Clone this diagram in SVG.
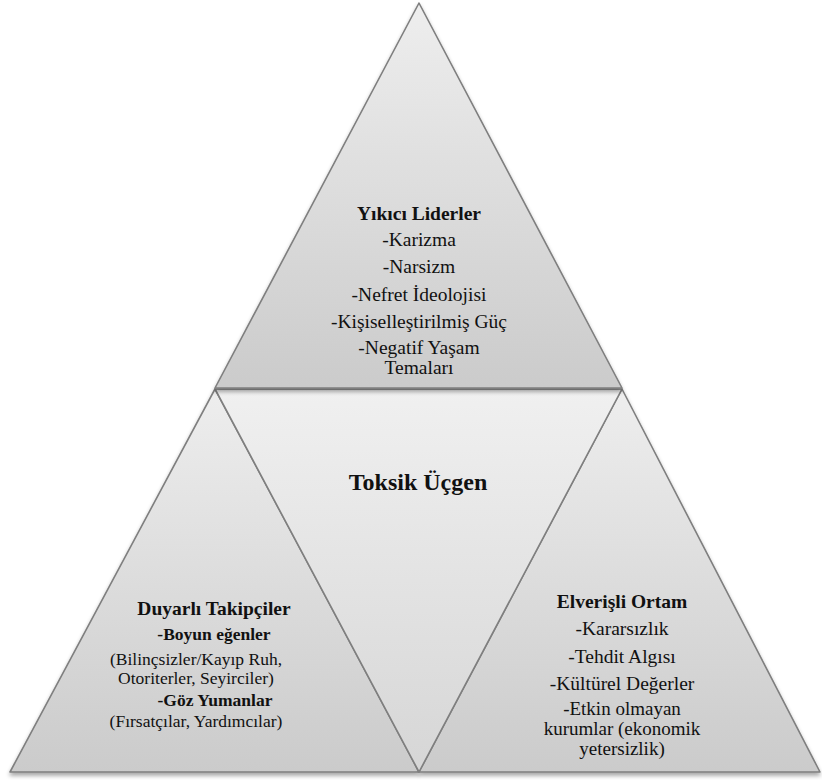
<svg xmlns="http://www.w3.org/2000/svg" width="822" height="781" viewBox="0 0 822 781">
  <defs>
    <linearGradient id="gTri" x1="0" y1="0" x2="0" y2="1">
      <stop offset="0" stop-color="#eeeeee"/>
      <stop offset="1" stop-color="#cbcbcb"/>
    </linearGradient>
    <linearGradient id="gMid" x1="0" y1="0" x2="0" y2="1">
      <stop offset="0" stop-color="#f0f0f0"/>
      <stop offset="1" stop-color="#d6d6d6"/>
    </linearGradient>
    <filter id="shadow" x="-10%" y="-10%" width="120%" height="120%">
      <feGaussianBlur in="SourceAlpha" stdDeviation="2"/>
      <feOffset dx="0" dy="3" result="b"/>
      <feComponentTransfer><feFuncA type="linear" slope="0.35"/></feComponentTransfer>
      <feMerge><feMergeNode/><feMergeNode in="SourceGraphic"/></feMerge>
    </filter>
  </defs>
  <style>
    .tri { stroke: #7f7f7f; stroke-width: 1.6; stroke-linejoin: round; }
    .lbl text { fill: #111; text-anchor: middle; }
    .h { font-weight: bold; font-size: 19.5px; }
    .t { font-size: 19.5px; }
    .tw { font-size: 19px; }
    .s { font-size: 17.5px; }
    .sb { font-size: 17.5px; font-weight: bold; }
    .c { font-weight: bold; font-size: 24px; }
  </style>

  <rect width="822" height="781" fill="#ffffff"/>

  <g id="shapes">
    <g id="left-triangle">
      <polygon class="tri" points="215,389 10,772 419,772" fill="url(#gTri)" filter="url(#shadow)"/>
    </g>
    <g id="right-triangle">
      <polygon class="tri" points="622,389 419,772 820,772" fill="url(#gTri)" filter="url(#shadow)"/>
    </g>
    <g id="center-triangle">
      <polygon class="tri" points="215,389 622,389 419,772" fill="url(#gMid)"/>
    </g>
    <g id="top-triangle">
      <polygon class="tri" points="419,3 215,388 622,388" fill="url(#gTri)" filter="url(#shadow)"/>
    </g>
  </g>

  <g id="connectors"></g>

  <g id="top-label" class="lbl" font-family="'Liberation Serif', 'Times New Roman', 'DejaVu Serif', serif">
    <text class="h" x="419" y="220">Yıkıcı Liderler</text>
    <text class="t" x="419" y="246">-Karizma</text>
    <text class="t" x="419" y="273">-Narsizm</text>
    <text class="t" x="419" y="301">-Nefret İdeolojisi</text>
    <text class="t" x="419" y="328" font-size="20px">-Kişiselleştirilmiş Güç</text>
    <text class="t" x="419" y="354">-Negatif Yaşam</text>
    <text class="t" x="419" y="374">Temaları</text>
  </g>

  <g id="center-label" class="lbl" font-family="'Liberation Serif', 'Times New Roman', 'DejaVu Serif', serif">
    <text class="c" x="418" y="490">Toksik Üçgen</text>
  </g>

  <g id="left-label" class="lbl" font-family="'Liberation Serif', 'Times New Roman', 'DejaVu Serif', serif">
    <text class="h" x="214" y="615">Duyarlı Takipçiler</text>
    <text class="sb" x="214" y="640">-Boyun eğenler</text>
    <text class="s" x="196" y="665">(Bilinçsizler/Kayıp  Ruh,</text>
    <text class="s" x="196" y="684">Otoriterler,  Seyirciler)</text>
    <text class="sb" x="215" y="706">-Göz Yumanlar</text>
    <text class="s" x="196" y="727">(Fırsatçılar, Yardımcılar)</text>
  </g>

  <g id="right-label" class="lbl" font-family="'Liberation Serif', 'Times New Roman', 'DejaVu Serif', serif">
    <text class="h" x="622" y="608">Elverişli Ortam</text>
    <text class="t" x="622" y="635">-Kararsızlık</text>
    <text class="t" x="622" y="663">-Tehdit Algısı</text>
    <text class="t" x="622" y="690">-Kültürel Değerler</text>
    <text class="tw" x="622" y="715">-Etkin olmayan</text>
    <text class="tw" x="622" y="735">kurumlar (ekonomik</text>
    <text class="tw" x="622" y="755">yetersizlik)</text>
  </g>
</svg>
